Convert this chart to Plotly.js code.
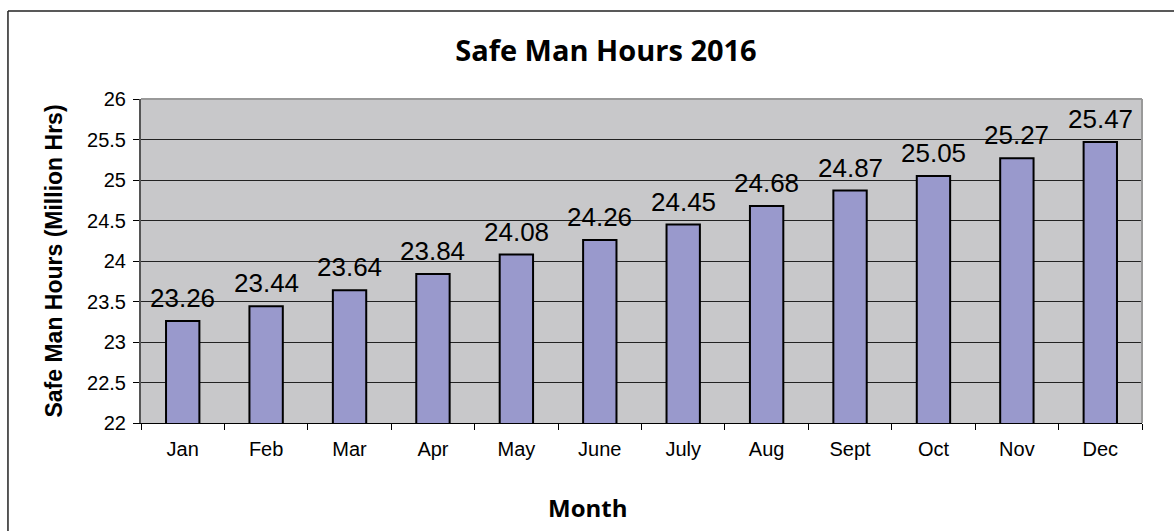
<!DOCTYPE html>
<html>
<head>
<meta charset="utf-8">
<script src="https://cdn.plot.ly/plotly-3.0.1.min.js"></script>
<style>
html,body{margin:0;padding:0;background:#fff;}
#chart{width:1174px;height:531px;}
</style>
</head>
<body>
<div id="chart"></div>
<script>
const months = ["Jan","Feb","Mar","Apr","May","June","July","Aug","Sept","Oct","Nov","Dec"];
const safeHours = [23.26,23.44,23.64,23.84,24.08,24.26,24.45,24.68,24.87,25.05,25.27,25.47];
const yTicks = [22,22.5,23,23.5,24,24.5,25,25.5,26];

const trace = {
  type: "bar",
  x: months,
  y: safeHours,
  marker: {color: "#9999cc", line: {color: "#000", width: 2}},
  hoverinfo: "none"
};

const labelAnnotations = months.map((m, i) => ({
  x: m, y: safeHours[i], xref: "x", yref: "y",
  text: safeHours[i].toFixed(2),
  showarrow: false,
  xanchor: "center", yanchor: "bottom",
  yshift: 6,
  font: {family: "Arial, Liberation Sans, sans-serif", size: 26, color: "#000"}
}));

const layout = {
  width: 1174, height: 531,
  margin: {l: 141, r: 32, t: 99, b: 108, pad: 0},
  paper_bgcolor: "#fff",
  plot_bgcolor: "#c8c8ca",
  bargap: 0.6,
  showlegend: false,
  title: {
    text: "<b>Safe Man Hours 2016</b>",
    font: {family: "Open Sans, sans-serif", size: 29, color: "#000"},
    xref: "paper", x: 0.4645, xanchor: "center",
    yref: "container", y: 0.904, yanchor: "middle"
  },
  xaxis: {
    type: "category",
    tickson: "boundaries",
    ticks: "outside", ticklen: 6, tickcolor: "#000", tickwidth: 1,
    ticklabelstandoff: 8,
    showline: true, linecolor: "#000", linewidth: 1,
    showgrid: false,
    tickfont: {family: "Arial, Liberation Sans, sans-serif", size: 20, color: "#000"},
    fixedrange: true
  },
  yaxis: {
    range: [22, 26],
    tickvals: yTicks,
    ticktext: yTicks.map(String),
    ticks: "outside", ticklen: 6, tickcolor: "#000", tickwidth: 1,
    ticklabelstandoff: 3,
    showline: true, linecolor: "#555", linewidth: 2,
    showgrid: true, gridcolor: "#222", gridwidth: 1,
    zeroline: false,
    tickfont: {family: "Arial, Liberation Sans, sans-serif", size: 20, color: "#000"},
    title: {
      text: "<b>Safe Man Hours (Million Hrs)</b>",
      font: {family: "Arial, Liberation Sans, sans-serif", size: 23, color: "#000"},
      standoff: 18
    },
    fixedrange: true
  },
  annotations: labelAnnotations.concat([{
    text: "<b>Month</b>",
    xref: "paper", yref: "paper",
    x: 0.4456, y: -0.262,
    xanchor: "center", yanchor: "middle",
    showarrow: false,
    font: {family: "Open Sans, sans-serif", size: 24, color: "#000"}
  }]),
  shapes: [
    {type: "line", xref: "paper", yref: "paper", x0: 0, x1: 1, y0: 1, y1: 1, line: {color: "#999", width: 2}},
    {type: "line", xref: "paper", yref: "paper", x0: 1, x1: 1, y0: 0, y1: 1, line: {color: "#999", width: 2}},
    {type: "line", xref: "paper", yref: "paper", x0: -0.1329, x1: 1.04, y0: 1.2716, y1: 1.2716, line: {color: "#222", width: 1.5}},
    {type: "line", xref: "paper", yref: "paper", x0: -0.1329, x1: -0.1329, y0: -0.35, y1: 1.2716, line: {color: "#222", width: 1.5}}
  ]
};

Plotly.newPlot("chart", [trace], layout, {displayModeBar: false, staticPlot: true});
</script>
</body>
</html>
